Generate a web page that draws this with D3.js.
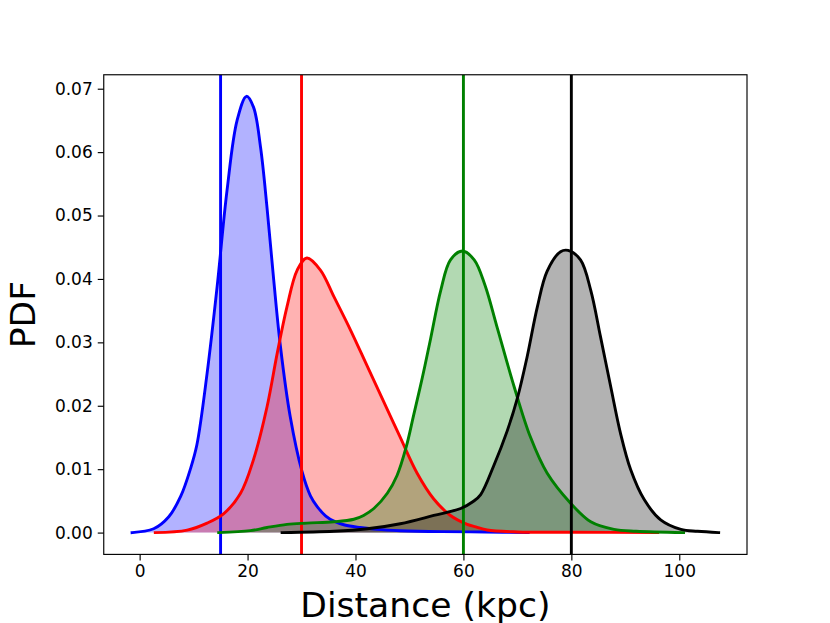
<!DOCTYPE html>
<html>
<head>
<meta charset="utf-8">
<script src="https://cdn.jsdelivr.net/npm/d3@7/dist/d3.min.js"></script>
<style>
  html, body { margin: 0; padding: 0; background: #fff; }
  svg { display: block; }
  text { font-family: "DejaVu Sans", sans-serif; fill: #000; }
</style>
</head>
<body>
<svg id="chart" width="830" height="623"></svg>
<script>
// ---- data ----
const blueX = [-1.4, 2.6, 5.4, 7.6, 9.4, 10.6, 12.5, 14.35, 16.2, 18.06, 19.8, 21.1, 22.4, 23.6, 24.85, 26.1, 27.9, 30.1, 31.65, 32.9, 34.5, 36, 38, 40.9, 44, 48.3, 56, 64, 72];
const blueY = [0, 0.0006, 0.0025, 0.0057, 0.010, 0.0138, 0.0251, 0.0387, 0.054, 0.065, 0.0688, 0.0671, 0.0608, 0.0513, 0.0398, 0.0293, 0.0183, 0.0096, 0.0058, 0.0041, 0.0026, 0.0018, 0.0012, 0.0008, 0.0005, 0.0003, 0.00015, 0.0001, 0];

const redX = [2.9, 8.8, 12.5, 15.6, 18.7, 21.1, 23.6, 25.5, 27.3, 29.2, 31.0, 33.5, 36.0, 39.1, 42.2, 45.2, 48.3, 51.4, 54.5, 57.6, 60.7, 62.3, 64.4, 70, 80, 96];
const redY = [0, 0.0004, 0.0015, 0.003, 0.0062, 0.0115, 0.0198, 0.0283, 0.0356, 0.0414, 0.0433, 0.0414, 0.0372, 0.0319, 0.0262, 0.0207, 0.0150, 0.0094, 0.0053, 0.0027, 0.0013, 0.0009, 0.0004, 0.0001, 0.00005, 0];

const greenX = [14.65, 20.5, 23.6, 27.3, 31, 36, 39.7, 41.5, 43.4, 45.9, 47.7, 49.4, 50.8, 52.4, 53.9, 55.8, 57.6, 59.8, 62.0, 64.0, 66.3, 69.4, 72.4, 75.5, 79.9, 83.6, 87.9, 92, 100.8];
const greenY = [0, 0.0003, 0.0008, 0.0013, 0.0015, 0.0017, 0.0021, 0.0027, 0.0038, 0.0062, 0.0090, 0.0135, 0.0186, 0.0245, 0.0305, 0.0382, 0.043, 0.0444, 0.043, 0.039, 0.0322, 0.023, 0.0151, 0.0094, 0.0046, 0.0017, 0.0005, 0.0002, 0];

const blackX = [26.4, 36, 42.2, 48.3, 54.5, 59.5, 61.8, 63.2, 65.6, 68.1, 70.0, 71.8, 73.7, 75.5, 78.0, 79.4, 81.7, 83.6, 85.4, 87.3, 89.1, 91.0, 93.5, 96.55, 100.3, 103.4, 107.3];
const blackY = [0, 0.0002, 0.0006, 0.0014, 0.0027, 0.0038, 0.0049, 0.006, 0.0105, 0.016, 0.0212, 0.0277, 0.0356, 0.0412, 0.0443, 0.0445, 0.043, 0.0382, 0.0309, 0.023, 0.0157, 0.0099, 0.0052, 0.002, 0.0005, 0.0002, 0];

const seriesNames = ["blue", "red", "green", "black"];
const seriesColors = ["#0000ff", "#ff0000", "#008000", "#000000"];
const vlineValues = [15, 30, 60, 80];

const xTicks = [0, 20, 40, 60, 80, 100];
const yTicks = [0, 0.01, 0.02, 0.03, 0.04, 0.05, 0.06, 0.07];
const xLabel = "Distance (kpc)";
const yLabel = "PDF";

// ---- layout ----
const W = 830, H = 623;
const mLeft = 103.75, mRight = 747, mTop = 74.76, mBottom = 554.4;

const x = d3.scaleLinear().domain([-6.65, 112.55]).range([mLeft, mRight]);
const y = d3.scaleLinear().domain([-0.00344, 0.0722]).range([mBottom, mTop]);

const svg = d3.select("#chart");

const seriesX = [blueX, redX, greenX, blackX];
const seriesY = [blueY, redY, greenY, blackY];
const series = seriesNames.map((n, i) => ({
  name: n, color: seriesColors[i], vline: vlineValues[i],
  pts: seriesX[i].map((v, j) => [v, seriesY[i][j]])
}));

svg.append("defs").append("clipPath").attr("id", "clip")
  .append("rect").attr("x", mLeft).attr("y", mTop)
  .attr("width", mRight - mLeft).attr("height", mBottom - mTop);

const plot = svg.append("g").attr("clip-path", "url(#clip)");

const curve = d3.curveCatmullRom.alpha(0.5);
const area = d3.area().curve(curve)
  .x(d => x(d[0])).y0(y(0)).y1(d => y(d[1]));
const line = d3.line().curve(curve)
  .x(d => x(d[0])).y(d => y(d[1]));

// fills below lines (matplotlib z-order)
series.forEach(s => {
  plot.append("path").attr("d", area(s.pts))
    .attr("fill", s.color).attr("fill-opacity", 0.3).attr("stroke", "none");
});
const lw = 2.9;
series.forEach(s => {
  plot.append("path").attr("d", line(s.pts))
    .attr("fill", "none").attr("stroke", s.color).attr("stroke-width", lw)
    .attr("stroke-linejoin", "round").attr("stroke-linecap", "square");
  plot.append("line")
    .attr("x1", x(s.vline)).attr("x2", x(s.vline))
    .attr("y1", mTop).attr("y2", mBottom)
    .attr("stroke", s.color).attr("stroke-width", lw);
});

// axes
const fontTick = 17;
const xAxis = d3.axisBottom(x).tickValues(xTicks).tickSizeOuter(0).tickSize(6).tickPadding(5).tickFormat(d3.format("d"));
const yAxis = d3.axisLeft(y).tickValues(yTicks).tickSizeOuter(0).tickSize(6).tickPadding(5).tickFormat(d3.format(".2f"));

const gx = svg.append("g").attr("transform", `translate(0,${mBottom})`).call(xAxis);
const gy = svg.append("g").attr("transform", `translate(${mLeft},0)`).call(yAxis);
[gx, gy].forEach(g => {
  g.select(".domain").remove();
  g.selectAll(".tick line").attr("stroke", "#000").attr("stroke-width", 1.15);
  g.selectAll(".tick text").attr("font-size", fontTick)
    .attr("font-family", "DejaVu Sans, sans-serif").attr("fill", "#000");
});

// frame
svg.append("rect").attr("x", mLeft).attr("y", mTop)
  .attr("width", mRight - mLeft).attr("height", mBottom - mTop)
  .attr("fill", "none").attr("stroke", "#000").attr("stroke-width", 1.15);

// labels
svg.append("text").attr("x", (mLeft + mRight) / 2).attr("y", 617)
  .attr("text-anchor", "middle").attr("font-size", 34.6).text(xLabel);
svg.append("text")
  .attr("transform", `translate(35,${(mTop + mBottom) / 2}) rotate(-90)`)
  .attr("text-anchor", "middle").attr("font-size", 34.6).text(yLabel);
</script>
</body>
</html>
